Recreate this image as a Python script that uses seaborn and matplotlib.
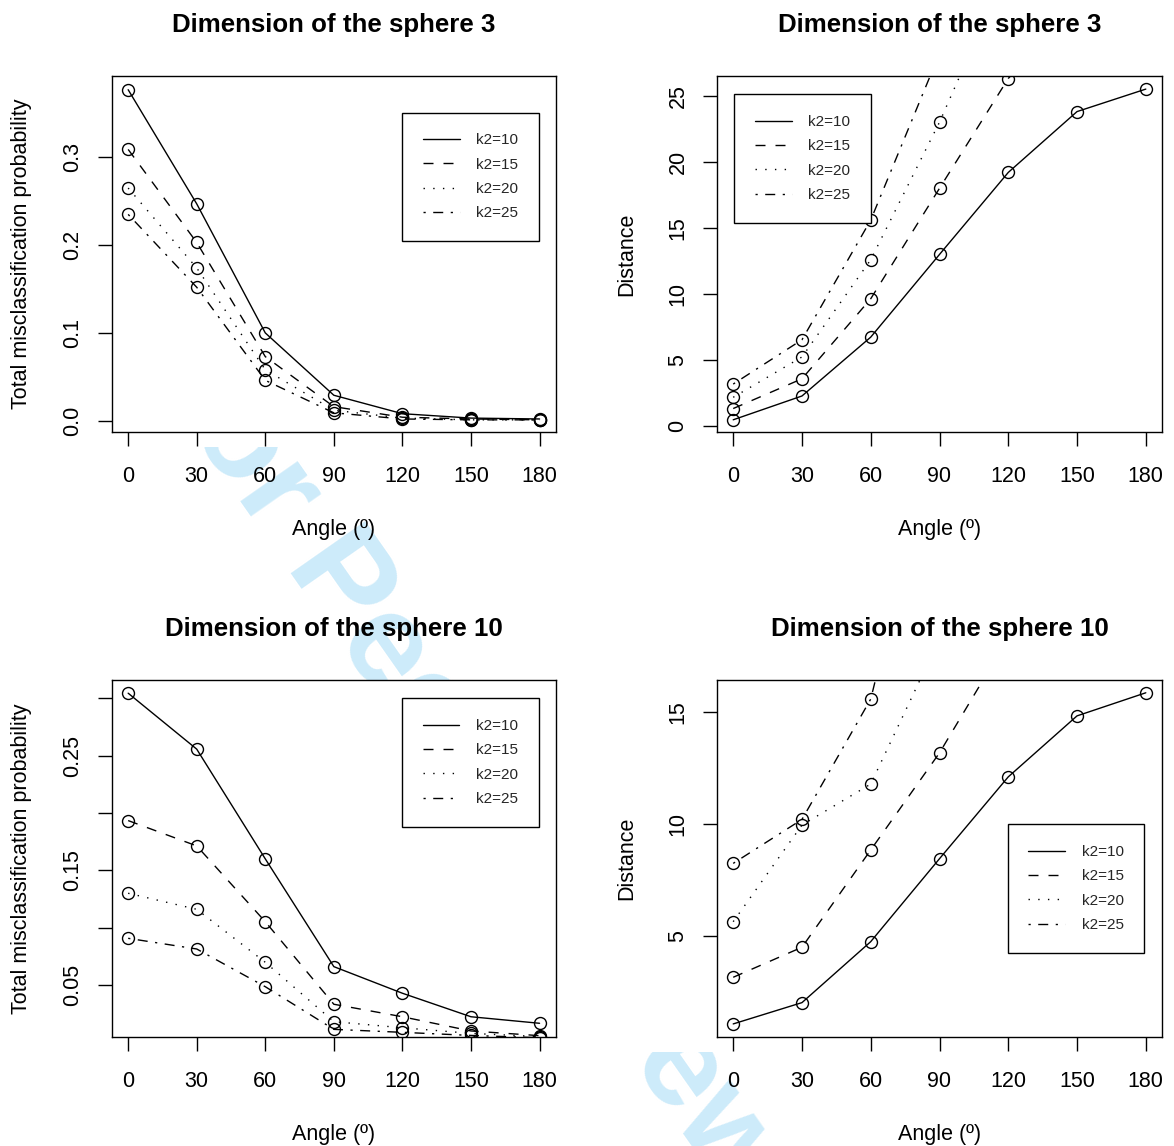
import numpy as np
import pandas as pd
import matplotlib
matplotlib.use("Agg")
import matplotlib.pyplot as plt
import seaborn as sns
from matplotlib.lines import Line2D
from matplotlib.transforms import Bbox

# ---------------- data ----------------
angles = [0, 30, 60, 90, 120, 150, 180]
series_labels = ["k2=10", "k2=15", "k2=20", "k2=25"]

# Dimension 3 - misclassification probability
d3_prob_k10 = [0.377, 0.247, 0.100, 0.029, 0.008, 0.003, 0.002]
d3_prob_k15 = [0.309, 0.203, 0.073, 0.016, 0.004, 0.002, 0.001]
d3_prob_k20 = [0.265, 0.174, 0.058, 0.012, 0.003, 0.001, 0.001]
d3_prob_k25 = [0.235, 0.152, 0.046, 0.009, 0.002, 0.001, 0.001]

# Dimension 3 - distance
d3_dist_k10 = [0.5, 2.3, 6.75, 13.0, 19.2, 23.8, 25.5]
d3_dist_k15 = [1.35, 3.6, 9.65, 18.0, 26.3, 32.0, 36.0]
d3_dist_k20 = [2.2, 5.25, 12.6, 23.0, 34.8, 44.0, 50.0]
d3_dist_k25 = [3.2, 6.55, 15.6, 28.2, 40.0, 50.0, 58.0]

# Dimension 10 - misclassification probability
d10_prob_k10 = [0.3045, 0.2557, 0.160, 0.066, 0.0428, 0.0223, 0.0166]
d10_prob_k15 = [0.1934, 0.1713, 0.1052, 0.0332, 0.0223, 0.0099, 0.0058]
d10_prob_k20 = [0.130, 0.116, 0.0698, 0.018, 0.0127, 0.0078, 0.005]
d10_prob_k25 = [0.0907, 0.0814, 0.0485, 0.0113, 0.0087, 0.006, 0.004]

# Dimension 10 - distance
d10_dist_k10 = [1.08, 2.03, 4.75, 8.45, 12.1, 14.82, 15.85]
d10_dist_k15 = [3.16, 4.5, 8.84, 13.17, 18.3, 22.0, 25.0]
d10_dist_k20 = [5.64, 9.95, 11.78, 18.26, 24.0, 28.0, 31.0]
d10_dist_k25 = [8.24, 10.2, 15.57, 28.0, 38.0, 45.0, 50.0]

x_ticks = [0, 30, 60, 90, 120, 150, 180]
x_tick_labels = ["0", "30", "60", "90", "120", "150", "180"]

# ---------------- style ----------------
sns.set_theme(style="white")
plt.rcParams["font.family"] = ["Liberation Sans", "DejaVu Sans"]

W, H = 1174, 1146
fig = plt.figure(figsize=(W / 100, H / 100), dpi=100)

dash_map = {
    "k2=10": "",
    "k2=15": (7.2, 7.2),
    "k2=20": (1.0, 6.0),
    "k2=25": (1.6, 5.4, 7.2, 5.4),
}
marker_map = {lab: "o" for lab in series_labels}

TICK_FS = 15.5


def px_rect(left, top, right, bottom):
    return [left / W, 1 - bottom / H, (right - left) / W, (bottom - top) / H]


def panel(rect, series, ylim, yticks, ytick_labels, ylabel, title, leg_xy):
    ax = fig.add_axes(rect)
    df = pd.DataFrame({
        "angle": angles * len(series),
        "value": np.concatenate(series),
        "k2": np.repeat(series_labels, len(angles)),
    })
    sns.lineplot(data=df, x="angle", y="value", style="k2",
                 style_order=series_labels, markers=marker_map,
                 dashes=dash_map, color="black", lw=1.0, ms=8.6,
                 mfc="none", mec="black", mew=1.0, legend=False,
                 estimator=None, ax=ax)
    ax.set_xlim(-7.2, 187.2)
    ax.set_ylim(*ylim)
    for s in ax.spines.values():
        s.set_visible(True)
        s.set_color("black")
        s.set_linewidth(1.0)
    ax.tick_params(axis="both", which="both", bottom=True, left=True,
                   direction="out", length=10, width=1.0, color="black",
                   labelsize=TICK_FS, labelcolor="black")
    ax.tick_params(axis="x", pad=15)
    ax.tick_params(axis="y", pad=17.8)
    ax.set_xticks(x_ticks, x_tick_labels)
    ax.set_yticks(yticks, ytick_labels, rotation=90, ha="center", va="center")
    ax.set_xlabel("Angle (º)", fontsize=TICK_FS, va="center", color="black")
    ax.xaxis.set_label_coords(0.5, -98 / 355.7)
    ax.set_ylabel(ylabel, fontsize=TICK_FS, va="center", color="black")
    ax.yaxis.set_label_coords(-90 / 444.3, 0.5)
    ax.set_title(title, fontsize=18.6, fontweight="bold", pad=32, color="black")
    ax.grid(False)

    handles = []
    for lab in series_labels:
        ln = Line2D([], [], color="black", lw=1.0)
        if dash_map[lab]:
            ln.set_dashes(dash_map[lab])
        handles.append(ln)
    leg = ax.legend(handles, series_labels, loc="upper left",
                    bbox_to_anchor=(leg_xy[0] / W, 1 - leg_xy[1] / H),
                    bbox_transform=fig.transFigure, borderaxespad=0,
                    fontsize=11, frameon=True, fancybox=False,
                    edgecolor="black", framealpha=1, handlelength=2.4,
                    handletextpad=1.1, labelspacing=0.68, borderpad=1.35)
    leg.get_frame().set_linewidth(1.0)
    return ax


panel(px_rect(111.7, 76, 556, 431.7),
      [d3_prob_k10, d3_prob_k15, d3_prob_k20, d3_prob_k25],
      (-0.0125, 0.3926), [0.0, 0.1, 0.2, 0.3], ["0.0", "0.1", "0.2", "0.3"],
      "Total misclassification probability", "Dimension of the sphere 3",
      (402.3, 112.7))

panel(px_rect(716.7, 76, 1162.3, 431.7),
      [d3_dist_k10, d3_dist_k15, d3_dist_k20, d3_dist_k25],
      (-0.4, 26.49), [0, 5, 10, 15, 20, 25], ["0", "5", "10", "15", "20", "25"],
      "Distance", "Dimension of the sphere 3",
      (734.3, 94.3))

panel(px_rect(111.7, 680, 556, 1036.7),
      [d10_prob_k10, d10_prob_k15, d10_prob_k20, d10_prob_k25],
      (0.0049, 0.316), [0.05, 0.10, 0.15, 0.20, 0.25, 0.30],
      ["0.05", "", "0.15", "", "0.25", ""],
      "Total misclassification probability", "Dimension of the sphere 10",
      (402.0, 698.3))

panel(px_rect(716.7, 680, 1162.3, 1036.7),
      [d10_dist_k10, d10_dist_k15, d10_dist_k20, d10_dist_k25],
      (0.51, 16.42), [5, 10, 15], ["5", "10", "15"],
      "Distance", "Dimension of the sphere 10",
      (1007.7, 824.3))

# faint "For Peer Review" watermark, visible only in gaps of the page
for clip in [Bbox.from_extents(100, H - 680, 600, H - 447),
             Bbox.from_extents(642, 0, W, H - 1052)]:
    t = fig.text(465 / W, 1 - 762 / H, "For Peer Review", fontsize=95,
                 fontweight="bold", color="#cdebfa", rotation=-55,
                 rotation_mode="anchor", ha="center", va="center", zorder=-1)
    t.set_clip_box(clip)
    t.set_clip_on(True)

fig.savefig("out.png", dpi=100, facecolor="white")
